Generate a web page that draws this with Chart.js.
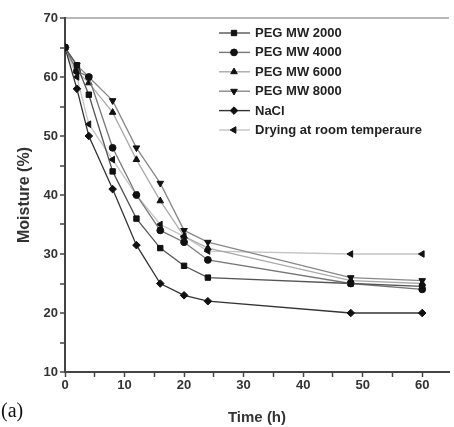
<!DOCTYPE html>
<html>
<head>
<meta charset="utf-8">
<script src="https://cdn.jsdelivr.net/npm/chart.js@4"></script>
<style>
  html, body { margin: 0; padding: 0; background: #fff; }
  #wrap { position: relative; width: 454px; height: 427px; }
  #lbl { position: absolute; left: 1px; top: 399px; font: 20px "Liberation Serif", serif; color: #111; }
</style>
</head>
<body>
<div id="wrap">
  <canvas id="grafico" width="454" height="427"></canvas>
  <div id="lbl">(a)</div>
</div>
<script>
// tempos (h)
var tempo = [0, 2, 4, 8, 12, 16, 20, 24, 48, 60];

var peg2000 = [65, 62, 57, 44, 36, 31, 28, 26, 25, 24.5];
var peg4000 = [65, 61, 60, 48, 40, 34, 32, 29, 25, 24];
var peg6000 = [65, 61, 59, 54, 46, 39, 33, 31, 25.5, 25];
var peg8000 = [65, 62, 60, 56, 48, 42, 34, 32, 26, 25.5];
var nacl    = [65, 58, 50, 41, 31.5, 25, 23, 22, 20, 20];
var secagem = [65, 60, 52, 46, 40, 35, 33, 30.5, 30, 30];

var nomes = ["PEG MW 2000", "PEG MW 4000", "PEG MW 6000", "PEG MW 8000", "NaCl", "Drying at room temperaure"];
var xTicks = [0, 10, 20, 30, 40, 50, 60];
var yTicks = [10, 20, 30, 40, 50, 60, 70];

function pontos(ys) {
  return tempo.map(function (t, i) { return { x: t, y: ys[i] }; });
}

function serie(nome, ys, cor, estilo, rot) {
  return {
    label: nome,
    data: pontos(ys),
    borderColor: cor,
    borderWidth: 1.3,
    backgroundColor: '#000',
    pointBackgroundColor: '#111',
    pointBorderColor: '#111',
    pointBorderWidth: 1,
    pointStyle: estilo,
    pointRotation: rot,
    pointRadius: estilo === 'circle' ? 3.4 : 3.8,
    showLine: true,
    tension: 0
  };
}

var fonte = '"Liberation Sans", Arial, sans-serif';

// legenda desenhada dentro do grafico
const legendaInterna = {
  id: 'legendaInterna',
  afterDraw(chart) {
    const ctx = chart.ctx;
    ctx.save();
    chart.data.datasets.forEach(function (ds, i) {
      const y = 33 + i * 19.4;
      ctx.strokeStyle = ds.borderColor;
      ctx.lineWidth = 1.4;
      ctx.beginPath();
      ctx.moveTo(219, y);
      ctx.lineTo(250, y);
      ctx.stroke();
      ctx.fillStyle = '#111';
      ctx.strokeStyle = '#111';
      ctx.lineWidth = 1;
      Chart.helpers.drawPoint(ctx, {
        pointStyle: ds.pointStyle,
        radius: ds.pointRadius,
        rotation: ds.pointRotation,
        borderWidth: 1
      }, 234, y);
      ctx.fillStyle = '#222';
      ctx.font = 'bold 13px ' + fonte;
      ctx.textBaseline = 'middle';
      ctx.textAlign = 'left';
      ctx.fillText(ds.label, 255, y + 0.5);
    });
    ctx.restore();
  }
};

new Chart(document.getElementById("grafico"), {
  type: 'scatter',
  data: {
    datasets: [
      serie(nomes[0], peg2000, '#555', 'rect', 0),
      serie(nomes[1], peg4000, '#777', 'circle', 0),
      serie(nomes[2], peg6000, '#aaa', 'triangle', 0),
      serie(nomes[3], peg8000, '#888', 'triangle', 180),
      serie(nomes[4], nacl, '#333', 'rectRot', 0),
      serie(nomes[5], secagem, '#c4c4c4', 'triangle', 270)
    ]
  },
  options: {
    responsive: false,
    animation: false,
    layout: { padding: { top: 18, right: 2, bottom: 0, left: 15 } },
    plugins: {
      legend: { display: false },
      tooltip: { enabled: false }
    },
    scales: {
      x: {
        type: 'linear',
        min: 0,
        max: 64.5,
        afterBuildTicks: function (s) {
          var t = [];
          for (var v = 0; v <= 60; v += 5) t.push({ value: v });
          s.ticks = t;
        },
        afterFit: function (s) { s.height = 55; },
        border: { display: true, color: '#444', width: 2 },
        grid: { drawOnChartArea: false, tickLength: 5, tickColor: '#444', tickWidth: 1.5 },
        ticks: {
          color: '#333',
          font: { family: fonte, size: 13, weight: 'bold' },
          padding: 1,
          maxRotation: 0,
          callback: function (v) { return xTicks.indexOf(v) >= 0 ? v : ''; }
        },
        title: {
          display: true,
          text: 'Time (h)',
          color: '#333',
          font: { family: fonte, size: 15, weight: 'bold' },
          padding: { top: 6, bottom: 0 }
        }
      },
      y: {
        min: 10,
        max: 70,
        afterBuildTicks: function (s) {
          var t = [];
          for (var v = 10; v <= 70; v += 5) t.push({ value: v });
          s.ticks = t;
        },
        afterFit: function (s) { s.width = 50; },
        border: { display: true, color: '#444', width: 2 },
        grid: {
          drawOnChartArea: true,
          drawTicks: true,
          tickLength: 5,
          tickColor: '#444',
          tickWidth: 1.5,
          color: function (c) { return c.tick && c.tick.value === 70 ? '#b8b8b8' : 'rgba(0,0,0,0)'; },
          lineWidth: 2
        },
        ticks: {
          color: '#333',
          font: { family: fonte, size: 13, weight: 'bold' },
          padding: 2,
          callback: function (v) { return yTicks.indexOf(v) >= 0 ? v : ''; }
        },
        title: {
          display: true,
          text: 'Moisture (%)',
          color: '#333',
          font: { family: fonte, size: 16, weight: 'bold' },
          padding: { top: 0, bottom: 4 }
        }
      }
    }
  },
  plugins: [legendaInterna]
});
</script>
</body>
</html>
